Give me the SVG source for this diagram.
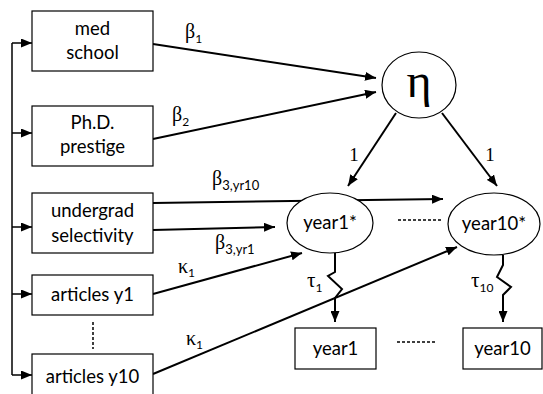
<svg xmlns="http://www.w3.org/2000/svg" width="543" height="394" viewBox="0 0 543 394">
<style>
.box{fill:#fff;stroke:#000;stroke-width:1.2}
.t{font-family:Lato,"Liberation Sans",sans-serif;font-size:18.5px;fill:#000;text-anchor:middle}
.g{font-family:"Liberation Serif",serif;fill:#000}
.s{font-family:Lato,"Liberation Sans",sans-serif;fill:#000}
.c{fill:none;stroke:#000;stroke-width:2}
.thin{fill:none;stroke:#000;stroke-width:1.5}
.d{fill:none;stroke:#000;stroke-width:1.5;stroke-dasharray:3,2}
</style>
<defs>
<marker id="ah" markerUnits="userSpaceOnUse" markerWidth="11" markerHeight="9" refX="11" refY="4.5" orient="auto">
<path d="M0,0 L11,4.5 L0,9 z" fill="#000"/>
</marker>
</defs>
<g id="connectors">
<line class="thin" x1="12" y1="43" x2="12" y2="375"/>
<line class="thin" x1="12" y1="43" x2="32" y2="43" marker-end="url(#ah)"/>
<line class="thin" x1="12" y1="133" x2="32" y2="133" marker-end="url(#ah)"/>
<line class="thin" x1="12" y1="227" x2="32" y2="227" marker-end="url(#ah)"/>
<line class="thin" x1="12" y1="294" x2="32" y2="294" marker-end="url(#ah)"/>
<line class="thin" x1="12" y1="375" x2="32" y2="375" marker-end="url(#ah)"/>
<line class="c" x1="153" y1="44" x2="376" y2="78" marker-end="url(#ah)"/>
<line class="c" x1="153" y1="139" x2="376" y2="92" marker-end="url(#ah)"/>
<line class="c" x1="396" y1="113" x2="348" y2="186" marker-end="url(#ah)"/>
<line class="c" x1="442" y1="113" x2="497" y2="186" marker-end="url(#ah)"/>
<line class="c" x1="153" y1="203" x2="443" y2="199" marker-end="url(#ah)"/>
<line class="c" x1="153" y1="230" x2="275" y2="227" marker-end="url(#ah)"/>
<line class="c" x1="153" y1="294" x2="302" y2="253" marker-end="url(#ah)"/>
<line class="c" x1="153" y1="374" x2="457" y2="247" marker-end="url(#ah)"/>
<polyline class="c" points="335,253 335,272 328,276 342,289 335,298 335,322" marker-end="url(#ah)"/>
<polyline class="c" points="503,255 503,265 497,277 511,287 503,295 503,322" marker-end="url(#ah)"/>
<line class="d" x1="93" y1="322" x2="93" y2="349"/>
<line class="d" x1="398" y1="220" x2="443" y2="220"/>
<line class="d" x1="397" y1="342" x2="437" y2="342"/>
</g>
<g id="labels">
<text class="g" x="185" y="38" font-size="20">β<tspan class="s" font-size="12" dy="5">1</tspan></text>
<text class="g" x="172" y="121" font-size="20">β<tspan class="s" font-size="12" dy="5">2</tspan></text>
<text class="g" x="212" y="185" font-size="20">β<tspan class="s" font-size="13" dy="5">3,yr10</tspan></text>
<text class="g" x="215" y="249" font-size="20">β<tspan class="s" font-size="13" dy="5">3,yr1</tspan></text>
<text class="g" x="178" y="273" font-size="20">κ<tspan class="s" font-size="12" dy="4">1</tspan></text>
<text class="g" x="186" y="345" font-size="20">κ<tspan class="s" font-size="12" dy="4">1</tspan></text>
<text class="g" x="354" y="161" font-size="19" text-anchor="middle">1</text>
<text class="g" x="490" y="161" font-size="19" text-anchor="middle">1</text>
<text class="g" x="307" y="287" font-size="21">τ<tspan class="s" font-size="12" dy="5">1</tspan></text>
<text class="g" x="471" y="287" font-size="21">τ<tspan class="s" font-size="12" dy="5">10</tspan></text>
</g>
<g id="med-school"><rect class="box" x="32" y="11" width="121" height="60"/><text class="t" x="92.5" y="35">med</text><text class="t" x="92.5" y="59">school</text></g>
<g id="phd-prestige"><rect class="box" x="32" y="106" width="121" height="60"/><text class="t" x="92.5" y="129">Ph.D.</text><text class="t" x="92.5" y="153">prestige</text></g>
<g id="undergrad"><rect class="box" x="32" y="193" width="121" height="60"/><text class="t" x="92.5" y="217">undergrad</text><text class="t" x="92.5" y="242">selectivity</text></g>
<g id="articles-y1"><rect class="box" x="32" y="275" width="121" height="40"/><text class="t" x="92.5" y="301">articles y1</text></g>
<g id="articles-y10"><rect class="box" x="32" y="354" width="121" height="44"/><text class="t" x="92.5" y="383">articles y10</text></g>
<g id="eta"><ellipse class="box" cx="419" cy="85" rx="37" ry="33"/><text class="g" x="419" y="97" font-size="48" text-anchor="middle">η</text></g>
<g id="year1-star"><ellipse class="box" cx="330" cy="223" rx="43" ry="30"/><text class="t" x="330" y="229">year1*</text></g>
<g id="year10-star"><ellipse class="box" cx="494" cy="224" rx="46" ry="31"/><text class="t" x="494" y="230">year10*</text></g>
<g id="year1"><rect class="box" x="295" y="328" width="81" height="41"/><text class="t" x="335.5" y="355">year1</text></g>
<g id="year10"><rect class="box" x="463" y="328" width="79" height="41"/><text class="t" x="502.5" y="355">year10</text></g>
</svg>
